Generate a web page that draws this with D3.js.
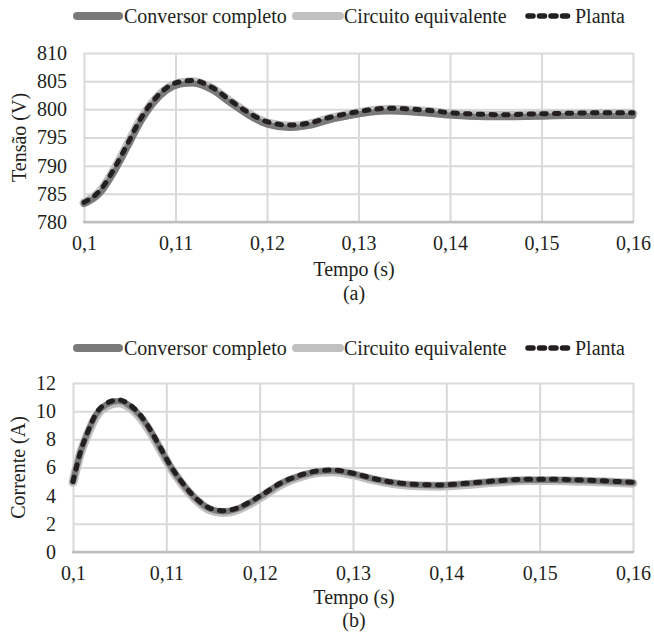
<!DOCTYPE html>
<html>
<head>
<meta charset="utf-8">
<script src="https://cdn.jsdelivr.net/npm/d3@7/dist/d3.min.js"></script>
<style>
  html, body { margin: 0; padding: 0; background: #fff; }
  svg { display: block; }
</style>
</head>
<body>
<svg id="chart" width="654" height="637"></svg>
<script>
// ---------- data ----------
const seriesNames = ["Conversor completo", "Circuito equivalente", "Planta"];
const xTicks = [0.1, 0.11, 0.12, 0.13, 0.14, 0.15, 0.16];
const xTickLabels = ["0,1", "0,11", "0,12", "0,13", "0,14", "0,15", "0,16"];

// (a) Tensão
const timeA = [0.1, 0.1018, 0.1032, 0.1047, 0.1061, 0.1075, 0.109, 0.1105, 0.1119, 0.1141, 0.1159, 0.1178, 0.12, 0.1225, 0.1247, 0.1269, 0.129, 0.1312, 0.1334, 0.1356, 0.1378, 0.14, 0.1421, 0.1457, 0.1494, 0.153, 0.1567, 0.16];
const plantaA = [783.5, 785.7, 789.2, 793.7, 798.1, 801.4, 803.8, 804.9, 805.1, 803.8, 801.7, 799.6, 797.8, 797.2, 797.6, 798.6, 799.3, 799.9, 800.2, 800.05, 799.8, 799.4, 799.2, 799.05, 799.2, 799.3, 799.4, 799.4];
const circuitoA = [783.4, 785.5, 789.0, 793.5, 797.9, 801.2, 803.6, 804.7, 804.9, 803.6, 801.5, 799.4, 797.6, 797.0, 797.4, 798.4, 799.1, 799.7, 800.0, 799.85, 799.6, 799.2, 799.0, 798.9, 799.0, 799.1, 799.2, 799.2];
const conversorA = [783.2, 785.2, 788.6, 793.1, 797.5, 800.9, 803.3, 804.4, 804.6, 803.3, 801.2, 799.1, 797.3, 796.7, 797.1, 798.1, 798.8, 799.4, 799.6, 799.5, 799.2, 798.9, 798.7, 798.6, 798.7, 798.8, 798.8, 798.8];
const yTicksA = [780, 785, 790, 795, 800, 805, 810];

// (b) Corrente
const timeB = [0.1, 0.10075, 0.1015, 0.1025, 0.1036, 0.1049, 0.1061, 0.1072, 0.1083, 0.1093, 0.1104, 0.1115, 0.1125, 0.1136, 0.1147, 0.1161, 0.1175, 0.119, 0.1205, 0.1222, 0.1244, 0.1265, 0.1279, 0.13, 0.1321, 0.1343, 0.1364, 0.1393, 0.1422, 0.145, 0.1486, 0.1514, 0.1543, 0.1572, 0.16];
const plantaB = [5.0, 7.0, 8.4, 9.85, 10.56, 10.8, 10.44, 9.73, 8.66, 7.48, 6.18, 5.11, 4.28, 3.57, 3.1, 2.93, 3.1, 3.57, 4.17, 4.88, 5.47, 5.78, 5.82, 5.59, 5.23, 4.95, 4.81, 4.76, 4.88, 5.04, 5.16, 5.16, 5.11, 5.04, 4.95];
const circuitoB = [4.95, 6.9, 8.25, 9.65, 10.36, 10.6, 10.26, 9.56, 8.5, 7.33, 6.05, 5.0, 4.17, 3.46, 2.98, 2.8, 2.97, 3.44, 4.04, 4.76, 5.35, 5.66, 5.7, 5.49, 5.14, 4.86, 4.72, 4.67, 4.79, 4.95, 5.07, 5.08, 5.03, 4.97, 4.88];
const conversorB = [5.0, 6.95, 8.35, 9.78, 10.48, 10.72, 10.37, 9.66, 8.6, 7.42, 6.12, 5.06, 4.23, 3.52, 3.05, 2.87, 3.04, 3.51, 4.11, 4.83, 5.42, 5.73, 5.77, 5.55, 5.2, 4.92, 4.78, 4.73, 4.85, 5.0, 5.12, 5.12, 5.08, 5.01, 4.92];
const yTicksB = [0, 2, 4, 6, 8, 10, 12];

// ---------- styles ----------
const colors = { conv: "#7a7a7a", circ: "#c0c0c0", planta: "#231f20" };
const textColor = "#231f20";
const gridColor = "#d9d9d9";
const FONT = "'Liberation Serif'";

const svg = d3.select("#chart");

function legend(y) {
  const g = svg.append("g").attr("transform", `translate(0,${y})`);
  const items = [
    { x1: 77, x2: 119, tx: 124, color: colors.conv, dash: null, w: 8, label: seriesNames[0] },
    { x1: 296, x2: 340, tx: 344, color: colors.circ, dash: null, w: 8, label: seriesNames[1] },
    { x1: 528, x2: 572, tx: 575, color: colors.planta, dash: "5,6.5", w: 5.5, label: seriesNames[2] }
  ];
  items.forEach(it => {
    g.append("line").attr("x1", it.x1).attr("x2", it.x2).attr("y1", 0).attr("y2", 0)
      .attr("stroke", it.color).attr("stroke-width", it.w).attr("stroke-linecap", "round")
      .attr("stroke-dasharray", it.dash);
    g.append("text").attr("x", it.tx).attr("y", 6.5).attr("font-size", 20)
      .style("font-family", FONT).attr("fill", textColor).text(it.label);
  });
}

function panel(cfg) {
  const { left, right, top, bottom, time, series, yTicks, yTitle, caption, tickBase, titleBase, capBase } = cfg;
  const x = d3.scaleLinear().domain([0.1, 0.16]).range([left, right]);
  const y = d3.scaleLinear().domain([yTicks[0], yTicks[yTicks.length - 1]]).range([bottom, top]);
  const g = svg.append("g");

  const gy = g.append("g").attr("transform", `translate(${left},0)`)
    .call(d3.axisLeft(y).tickValues(yTicks).tickSize(-(right - left)).tickFormat(d => String(d)).tickPadding(17));
  gy.select(".domain").remove();
  gy.selectAll(".tick line").attr("stroke", gridColor).attr("stroke-width", 2);
  gy.selectAll(".tick text").attr("font-size", 20).attr("fill", textColor)
    .style("font-family", FONT);

  const gx = g.append("g").attr("transform", `translate(0,${bottom})`)
    .call(d3.axisBottom(x).tickValues(xTicks).tickSize(-(bottom - top))
      .tickFormat((d, i) => xTickLabels[i]).tickPadding(0));
  gx.select(".domain").remove();
  gx.selectAll(".tick line").attr("stroke", gridColor).attr("stroke-width", 2);
  gx.selectAll(".tick text").attr("font-size", 20).attr("fill", textColor)
    .style("font-family", FONT).attr("dy", null).attr("y", tickBase - bottom);

  g.append("line").attr("x1", left - 1).attr("x2", right + 1).attr("y1", bottom).attr("y2", bottom)
    .attr("stroke", "#bfbfbf").attr("stroke-width", 2.5);

  const line = d3.line().x((d, i) => x(time[i])).y(d => y(d)).curve(d3.curveMonotoneX);

  g.append("path").datum(series.circ).attr("d", line).attr("fill", "none")
    .attr("stroke", colors.circ).attr("stroke-width", 9).attr("stroke-linecap", "round");
  g.append("path").datum(series.conv).attr("d", line).attr("fill", "none")
    .attr("stroke", colors.conv).attr("stroke-width", 6).attr("stroke-linecap", "round");
  g.append("path").datum(series.planta).attr("d", line).attr("fill", "none")
    .attr("stroke", colors.planta).attr("stroke-width", 5).attr("stroke-linecap", "round")
    .attr("stroke-dasharray", "4.5,8.2");

  g.append("text").attr("transform", `translate(${cfg.yTitleX},${(top + bottom) / 2}) rotate(-90)`)
    .attr("text-anchor", "middle").attr("font-size", 20).style("font-family", FONT)
    .attr("fill", textColor).text(yTitle);
  g.append("text").attr("x", 354).attr("y", titleBase).attr("text-anchor", "middle")
    .attr("font-size", 20).style("font-family", FONT).attr("fill", textColor).text("Tempo (s)");
  g.append("text").attr("x", 354).attr("y", capBase).attr("text-anchor", "middle")
    .attr("font-size", 20).style("font-family", FONT).attr("fill", textColor).text(caption);
}

legend(16);
panel({ left: 84, right: 633, top: 53, bottom: 222, time: timeA,
  series: { conv: conversorA, circ: circuitoA, planta: plantaA },
  yTicks: yTicksA, yTitle: "Tensão (V)", yTitleX: 26, caption: "(a)",
  tickBase: 250, titleBase: 276, capBase: 300 });

legend(348);
panel({ left: 73, right: 633, top: 383, bottom: 552, time: timeB,
  series: { conv: conversorB, circ: circuitoB, planta: plantaB },
  yTicks: yTicksB, yTitle: "Corrente (A)", yTitleX: 25, caption: "(b)",
  tickBase: 580, titleBase: 604, capBase: 627 });
</script>
</body>
</html>
